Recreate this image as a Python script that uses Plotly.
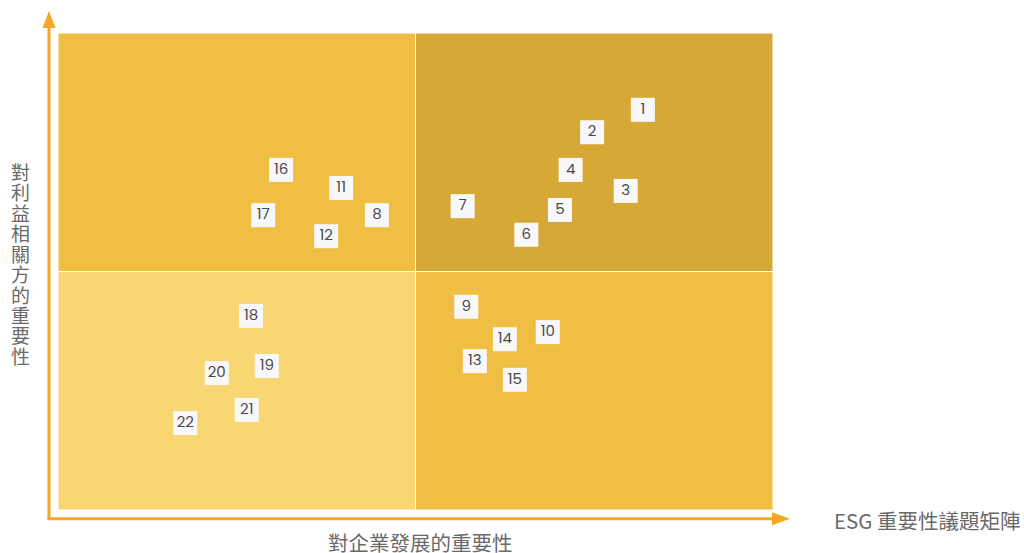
"""ESG 重要性議題矩陣：四象限 + 議題編號方塊。"""
import plotly.graph_objects as go

# ---- 資料（自圖中讀取，座標軸 0–10）----
ISSUE_IDS = [str(i) for i in range(1, 23)]
X_BIZ = [8.18, 7.47, 7.94, 7.17, 7.02, 6.55, 5.66, 4.46, 5.71, 6.85, 3.96,
         3.75, 5.83, 6.25, 6.39, 3.12, 2.87, 2.70, 2.92, 2.22, 2.64, 1.78]
Y_STAKE = [8.39, 7.92, 6.69, 7.13, 6.29, 5.77, 6.37, 6.18, 4.26, 3.73, 6.75,
           5.74, 3.12, 3.58, 2.73, 7.13, 6.18, 4.07, 3.02, 2.87, 2.10, 1.82]

X_TITLE = "對企業發展的重要性"
Y_TITLE = "對利益相關方的重要性"
CHART_TITLE = "ESG 重要性議題矩陣"

# ---- 樣式 ----
W, H = 1024, 553
L, R, T, B = 58, 773, 33, 510          # 繪圖區像素邊界
Q_TL, Q_TR, Q_BL, Q_BR = "#f0be42", "#d6a937", "#f8d671", "#f0be42"
AXIS = "#f5a623"
BOX = "#f8f8fa"
TXT = "#4a4a4a"
TITLE_C = "#6a6a6a"
CJK = '"Noto Sans CJK TC", "Noto Sans", sans-serif'
NUM = 'Poppins, Inter, Roboto, sans-serif'


def px(x):  # 像素 → paper x
    return (x - L) / (R - L)


def py(y):  # 像素 → paper y
    return (B - y) / (B - T)


fig = go.Figure()
fig.add_trace(go.Scatter(
    x=X_BIZ, y=Y_STAKE, text=ISSUE_IDS, mode="markers+text",
    marker=dict(symbol="square", size=24, color=BOX, line=dict(width=0)),
    textposition="middle center",
    textfont=dict(family=NUM, size=15, color=TXT),
    hoverinfo="skip", showlegend=False, cliponaxis=False,
))

shapes = []
# 四象限
for (x0, x1, y0, y1, c) in [(0, 5, 5, 10, Q_TL), (5, 10, 5, 10, Q_TR),
                            (0, 5, 0, 5, Q_BL), (5, 10, 0, 5, Q_BR)]:
    shapes.append(dict(type="rect", xref="x", yref="y", x0=x0, x1=x1, y0=y0, y1=y1,
                       fillcolor=c, line=dict(color="white", width=1), layer="below"))
# 軸線與箭頭
ox, oy = 49, 518.7
shapes.append(dict(type="line", xref="paper", yref="paper", x0=px(ox), x1=px(ox),
                   y0=py(oy + 1.3), y1=py(27), line=dict(color=AXIS, width=3)))
shapes.append(dict(type="line", xref="paper", yref="paper", x0=px(ox - 1.5), x1=px(773),
                   y0=py(oy), y1=py(oy), line=dict(color=AXIS, width=3)))
shapes.append(dict(type="path", xref="paper", yref="paper", fillcolor=AXIS,
                   line=dict(width=0),
                   path=f"M {px(ox)} {py(11)} L {px(ox - 6.5)} {py(28)} "
                        f"L {px(ox + 6.5)} {py(28)} Z"))
shapes.append(dict(type="path", xref="paper", yref="paper", fillcolor=AXIS,
                   line=dict(width=0),
                   path=f"M {px(790)} {py(oy)} L {px(772)} {py(oy - 6.5)} "
                        f"L {px(772)} {py(oy + 6.5)} Z"))

# 縱軸標題：逐字直排
annotations = [
    dict(text=ch, xref="paper", yref="paper", x=px(20), y=py(171 + i * 20.5),
         showarrow=False, font=dict(family=CJK, size=19, color=TITLE_C),
         xanchor="center", yanchor="middle")
    for i, ch in enumerate(Y_TITLE)
]
annotations += [
    dict(text=X_TITLE, xref="paper", yref="paper", x=px(420), y=py(542),
         showarrow=False, font=dict(family=CJK, size=20.5, color=TITLE_C),
         xanchor="center", yanchor="middle"),
    dict(text=CHART_TITLE, xref="paper", yref="paper", x=px(1023), y=py(520),
         showarrow=False, font=dict(family=CJK, size=20.5, color=TITLE_C),
         xanchor="right", yanchor="middle"),
]

fig.update_layout(
    width=W, height=H, paper_bgcolor="white", plot_bgcolor="white",
    margin=dict(l=L, r=W - R, t=T, b=H - B),
    xaxis=dict(range=[0, 10], visible=False, fixedrange=True),
    yaxis=dict(range=[0, 10], visible=False, fixedrange=True),
    shapes=shapes, annotations=annotations,
)
fig.write_html("out.html", config=dict(displayModeBar=False),
               post_script="document.body.style.margin='0';")
